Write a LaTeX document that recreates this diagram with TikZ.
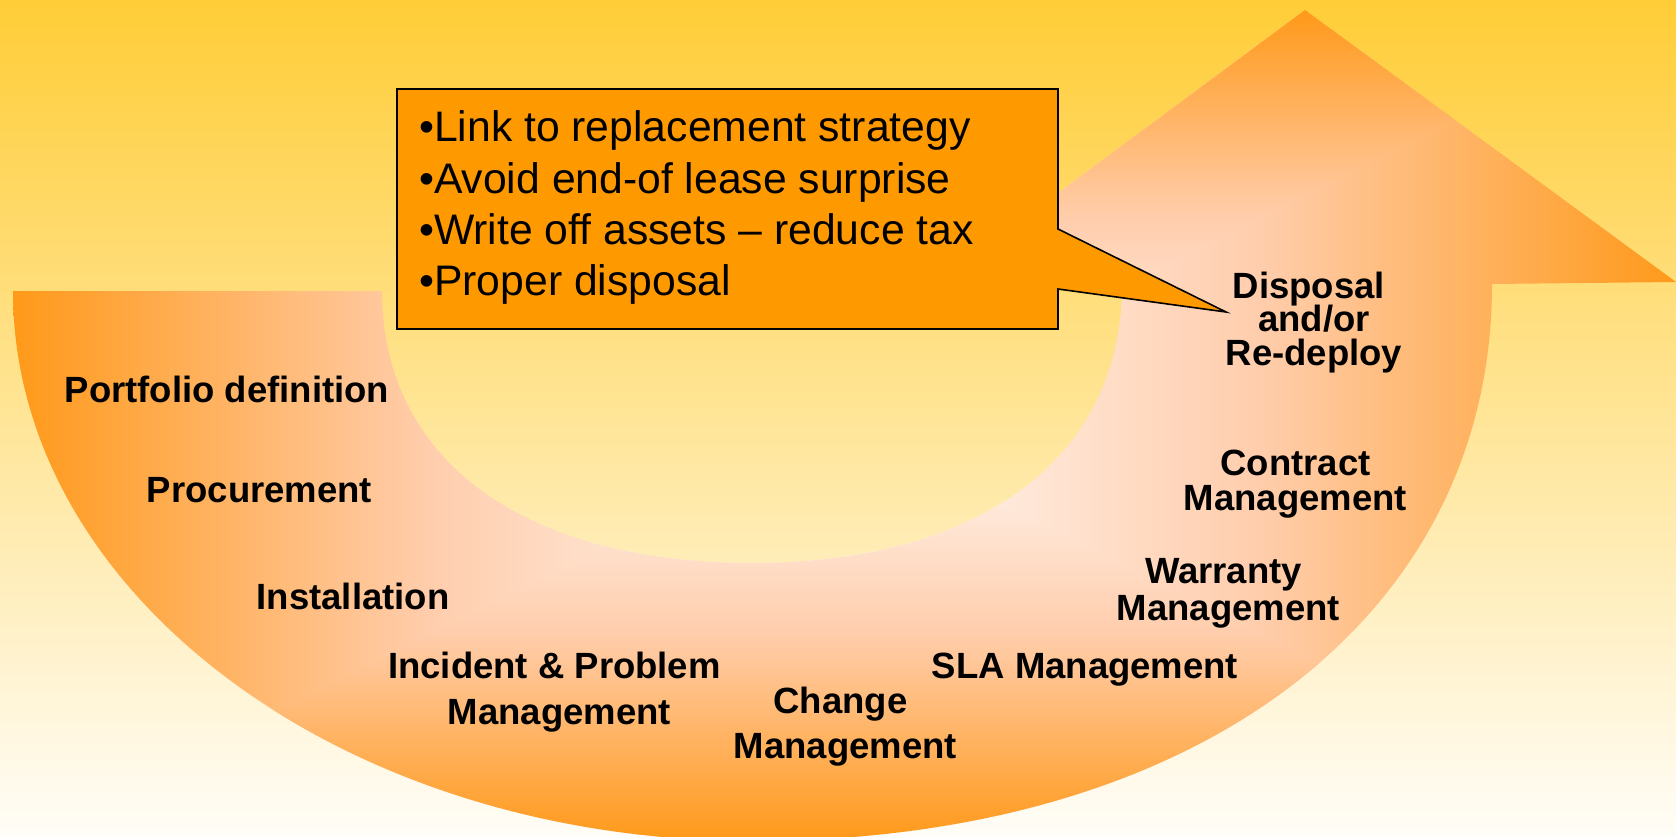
\documentclass[tikz,border=0pt]{standalone}
\usepackage{fontspec}
\setmainfont{Liberation Sans}
\definecolor{bgtop}{RGB}{255,205,55}
\definecolor{bgbot}{RGB}{255,253,248}
\definecolor{arrA}{RGB}{255,153,25}
\definecolor{arrB}{RGB}{255,205,172}
\definecolor{arrC}{RGB}{255,250,247}
\definecolor{callfill}{RGB}{255,153,0}
\pgfdeclarehorizontalshading{arrowh}{100bp}{color(0bp)=(arrA); color(25bp)=(arrA); color(37.5bp)=(arrB); color(50bp)=(arrC); color(62.5bp)=(arrB); color(75bp)=(arrA); color(100bp)=(arrA)}
\pgfdeclareverticalshading{arrowtop}{100bp}{color(0bp)=(arrC); color(25bp)=(arrC); color(50bp)=(arrB); color(75bp)=(arrA); color(100bp)=(arrA)}
\pgfdeclareverticalshading{arrowbot}{100bp}{color(0bp)=(arrA); color(25bp)=(arrA); color(50bp)=(arrB); color(75bp)=(arrC); color(100bp)=(arrC)}
\newcommand\clines[2]{\vtop{\baselineskip=#1pt\lineskiplimit=-\maxdimen\lineskip=0pt\halign{\hfil##\hfil\cr#2\crcr}}}
\newcommand\llines[2]{\vtop{\baselineskip=#1pt\lineskiplimit=-\maxdimen\lineskip=0pt\halign{##\hfil\cr#2\crcr}}}
\begin{document}
\begin{tikzpicture}[x=1pt,y=-1pt,
  lbl/.style={font=\fontsize{36.5}{44}\selectfont\bfseries, inner sep=0pt, anchor=base},
  calltxt/.style={font=\fontsize{42.7}{51.2}\selectfont, inner sep=0pt, anchor=base west},
  callbox/.style={fill=callfill, draw=black, line width=1.6pt, line join=miter}]
\useasboundingbox (0,0) rectangle (1676,837);
\shade[top color=bgtop, bottom color=bgbot] (0,0) rectangle (1676,837);
% U-turn arrow with rectangular gradient
\begin{scope}
\clip (13,291) -- (382,291)
  .. controls (382,459.6) and (522.6,563) .. (752,563)
  .. controls (981.4,563) and (1122,457.4) .. (1122,285)
  -- (938,282) -- (1305,10) -- (1676,282) -- (1492,284)
  .. controls (1492,618) and (1196.2,841) .. (752.5,841)
  .. controls (344.1,841) and (13,594.8) .. (13,291) -- cycle;
\shade[shading=arrowh] (13,10) rectangle (1676,841);
\shade[shading=arrowtop] (13,10) -- (1676,10) -- (844.5,425.5) -- cycle;
\shade[shading=arrowbot] (13,841) -- (1676,841) -- (844.5,425.5) -- cycle;
\end{scope}
% labels
\node[lbl] (portfolio) at (227,402) {Portfolio definition};
\node[lbl] (procure) at (259.5,502) {Procurement};
\node[lbl] (install) at (353,609) {Installation};
\node[lbl] (incident) at (559.5,678) {\clines{46}{Incident \& Problem\kern.278em\cr Management}};
\node[lbl] (change) at (845.5,713) {\clines{45}{Change\kern.278em\cr Management}};
\node[lbl] (sla) at (1085,678) {SLA Management};
\node[lbl] (warranty) at (1228.5,583) {\clines{37}{Warranty\kern.278em\cr Management}};
\node[lbl] (contract) at (1295.5,475) {\clines{35}{Contract\cr Management}};
\node[lbl] (disposal) at (1314,298) {\clines{33.5}{Disposal\kern.278em\cr and/or\cr Re-deploy}};
% callout
\draw[callbox] (397,89) -- (1058,89) -- (1058,229) -- (1226,312) -- (1058,289) -- (1058,329) -- (397,329) -- cycle;
\node[calltxt] (calltext) at (419,142) {\llines{51.2}{•Link to replacement strategy\cr •Avoid end-of lease surprise\cr •Write off assets – reduce tax\cr •Proper disposal}};
\end{tikzpicture}
\end{document}
